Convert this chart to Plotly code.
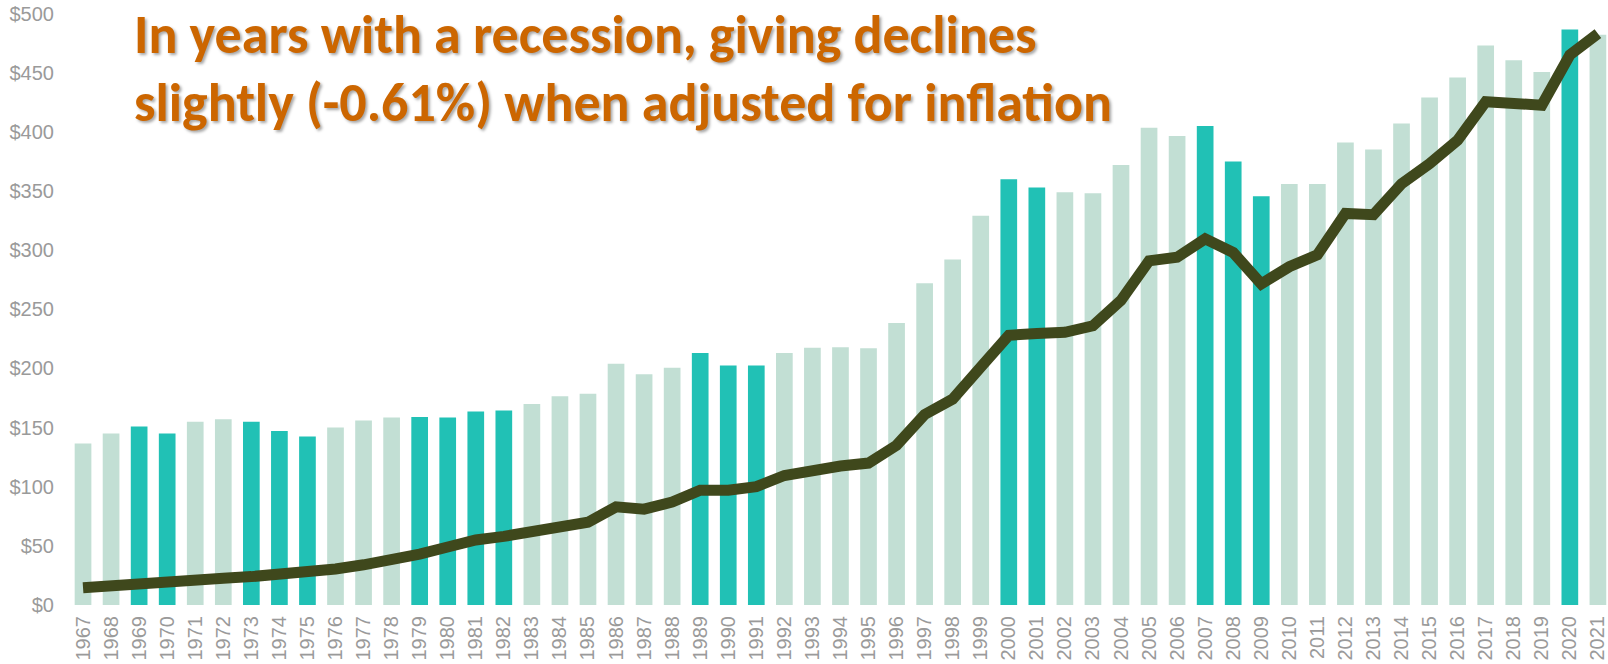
import plotly.graph_objects as go

years = [str(y) for y in range(1967, 2022)]

bar_values = [136.5, 145, 151, 145, 155, 157, 155, 147, 142.5, 150,
              156, 158.5, 159, 158.5, 163.5, 164.5, 170, 176.5, 178.5, 204,
              195, 200.5, 213, 202.5, 202.5, 213, 217.5, 218, 217, 238.5,
              272, 292, 329, 360, 353, 349, 348, 372, 403.5, 396.5,
              405, 375, 345.5, 356, 356, 391, 385, 407, 429, 446,
              473, 460.5, 450.5, 486.5, 482]

line_values = [14.5, 16.5, 19, 19.5, 21.5, 22.7, 24, 25.5, 27, 30.5,
               34, 38, 43, 49, 55, 58, 62, 67, 70, 83,
               81, 87, 97, 97, 100, 109.5, 114.5, 117.5, 120, 135,
               161, 174, 201, 228, 229.5, 230.5, 236, 257.5, 291, 294,
               309.5, 298, 271.5, 286, 296, 331, 330, 356, 373, 393,
               425.5, 425, 422.5, 465, 483]

recession_years = ["1969", "1970", "1973", "1974", "1975", "1979", "1980", "1981",
                   "1982", "1989", "1990", "1991", "2000", "2001", "2007", "2008",
                   "2009", "2020"]

y_ticks = [0, 50, 100, 150, 200, 250, 300, 350, 400, 450, 500]
y_tick_labels = ["$" + str(v) for v in y_ticks]

title_line1 = "In years with a recession, giving declines"
title_line2 = "slightly (-0.61%) when adjusted for inflation"

TEAL = "#21C1B5"
LIGHT = "#C2DFD4"
LINE = "#3F481C"

colors = [TEAL if y in recession_years else LIGHT for y in years]

fig = go.Figure()
fig.add_trace(go.Bar(x=years, y=bar_values, marker=dict(color=colors, line=dict(width=0)),
                     showlegend=False))
fig.add_trace(go.Scatter(x=years, y=line_values, mode="lines",
                         line=dict(color=LINE, width=11), showlegend=False))

tick_font = dict(family="Liberation Sans, Arial, sans-serif", size=20, color="#9a9a9a")

fig.update_layout(
    width=1608, height=664,
    margin=dict(l=69, r=0, t=10, b=59),
    paper_bgcolor="white", plot_bgcolor="white",
    bargap=0.405,
    xaxis=dict(type="category", range=[-0.5, 54.36], tickangle=-90,
               showgrid=False, zeroline=False, showline=False, ticks="",
               tickfont=tick_font, ticklabelstandoff=6),
    yaxis=dict(range=[0, 503], tickmode="array", tickvals=y_ticks, ticktext=y_tick_labels,
               showgrid=False, zeroline=False, showline=False, ticks="",
               tickfont=tick_font, ticklabelstandoff=14),
)

title_font = dict(family="Carlito, Calibri, Lato, sans-serif", size=54, color="#CC6600",
                  weight="bold", shadow="2px 2px 3px rgba(0,0,0,0.35)")
fig.add_annotation(text=title_line1, xref="paper", yref="paper", x=0.041, y=1.0165,
                   xanchor="left", yanchor="top", showarrow=False, font=title_font)
fig.add_annotation(text=title_line2, xref="paper", yref="paper", x=0.041, y=0.9024,
                   xanchor="left", yanchor="top", showarrow=False, font=title_font)

fig.write_html("out.html")
